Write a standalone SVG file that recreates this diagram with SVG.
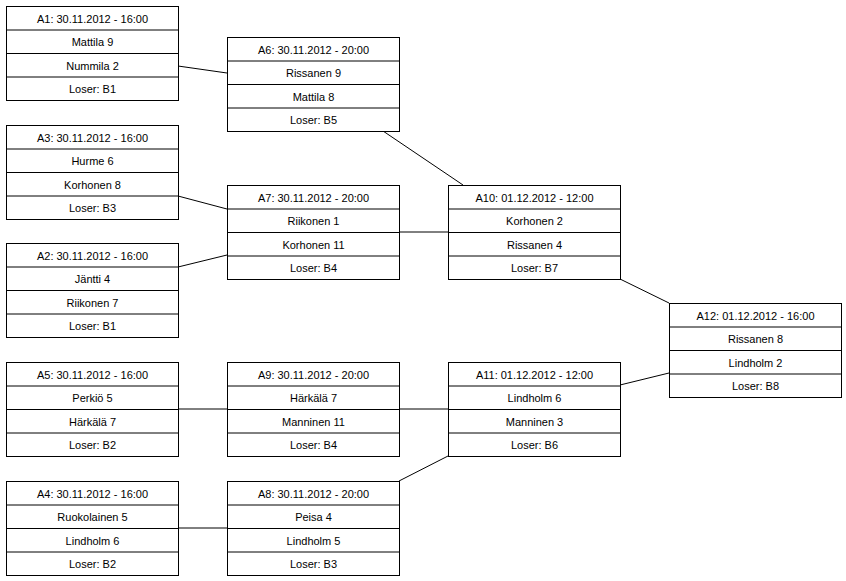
<svg xmlns="http://www.w3.org/2000/svg" width="846" height="581" viewBox="0 0 846 581">
<style>
rect{fill:#fff;stroke:#000;stroke-width:1}
line.s{stroke:#000;stroke-width:1}
text{font-family:"Liberation Sans",Arial,sans-serif;font-size:11px;text-anchor:middle;fill:#000}
#connectors line{stroke:#000;stroke-width:1}
</style>
<rect x="0" y="0" width="846" height="581" style="stroke:none"/>
<g id="connectors">
<line x1="178" y1="66" x2="227" y2="73"/>
<line x1="383" y1="131" x2="463" y2="185"/>
<line x1="178" y1="196" x2="227" y2="209"/>
<line x1="178" y1="267" x2="227" y2="255"/>
<line x1="399" y1="232" x2="448" y2="232"/>
<line x1="620" y1="279" x2="669" y2="303"/>
<line x1="620" y1="385" x2="669" y2="373"/>
<line x1="178" y1="409" x2="448" y2="409"/>
<line x1="399" y1="481" x2="448" y2="456"/>
<line x1="178" y1="528" x2="227" y2="528"/>
</g>
<defs>
<g id="box">
<rect x="0" y="0" width="172" height="94"/>
<line class="s" x1="0" y1="23.5" x2="172" y2="23.5"/>
<line class="s" x1="0" y1="47" x2="172" y2="47"/>
<line class="s" x1="0" y1="70.5" x2="172" y2="70.5"/>
</g>
</defs>
<g id="A1" transform="translate(6.5,6.5)"><use href="#box"/><text x="86" y="16">A1: 30.11.2012 - 16:00</text><text x="86" y="39">Mattila 9</text><text x="86" y="63">Nummila 2</text><text x="86" y="86">Loser: B1</text></g>
<g id="A3" transform="translate(6.5,125.5)"><use href="#box"/><text x="86" y="16">A3: 30.11.2012 - 16:00</text><text x="86" y="39">Hurme 6</text><text x="86" y="63">Korhonen 8</text><text x="86" y="86">Loser: B3</text></g>
<g id="A2" transform="translate(6.5,243.5)"><use href="#box"/><text x="86" y="16">A2: 30.11.2012 - 16:00</text><text x="86" y="39">Jäntti 4</text><text x="86" y="63">Riikonen 7</text><text x="86" y="86">Loser: B1</text></g>
<g id="A5" transform="translate(6.5,362.5)"><use href="#box"/><text x="86" y="16">A5: 30.11.2012 - 16:00</text><text x="86" y="39">Perkiö 5</text><text x="86" y="63">Härkälä 7</text><text x="86" y="86">Loser: B2</text></g>
<g id="A4" transform="translate(6.5,481.5)"><use href="#box"/><text x="86" y="16">A4: 30.11.2012 - 16:00</text><text x="86" y="39">Ruokolainen 5</text><text x="86" y="63">Lindholm 6</text><text x="86" y="86">Loser: B2</text></g>
<g id="A6" transform="translate(227.5,37.5)"><use href="#box"/><text x="86" y="16">A6: 30.11.2012 - 20:00</text><text x="86" y="39">Rissanen 9</text><text x="86" y="63">Mattila 8</text><text x="86" y="86">Loser: B5</text></g>
<g id="A7" transform="translate(227.5,185.5)"><use href="#box"/><text x="86" y="16">A7: 30.11.2012 - 20:00</text><text x="86" y="39">Riikonen 1</text><text x="86" y="63">Korhonen 11</text><text x="86" y="86">Loser: B4</text></g>
<g id="A9" transform="translate(227.5,362.5)"><use href="#box"/><text x="86" y="16">A9: 30.11.2012 - 20:00</text><text x="86" y="39">Härkälä 7</text><text x="86" y="63">Manninen 11</text><text x="86" y="86">Loser: B4</text></g>
<g id="A8" transform="translate(227.5,481.5)"><use href="#box"/><text x="86" y="16">A8: 30.11.2012 - 20:00</text><text x="86" y="39">Peisa 4</text><text x="86" y="63">Lindholm 5</text><text x="86" y="86">Loser: B3</text></g>
<g id="A10" transform="translate(448.5,185.5)"><use href="#box"/><text x="86" y="16">A10: 01.12.2012 - 12:00</text><text x="86" y="39">Korhonen 2</text><text x="86" y="63">Rissanen 4</text><text x="86" y="86">Loser: B7</text></g>
<g id="A11" transform="translate(448.5,362.5)"><use href="#box"/><text x="86" y="16">A11: 01.12.2012 - 12:00</text><text x="86" y="39">Lindholm 6</text><text x="86" y="63">Manninen 3</text><text x="86" y="86">Loser: B6</text></g>
<g id="A12" transform="translate(669.5,303.5)"><use href="#box"/><text x="86" y="16">A12: 01.12.2012 - 16:00</text><text x="86" y="39">Rissanen 8</text><text x="86" y="63">Lindholm 2</text><text x="86" y="86">Loser: B8</text></g>
</svg>
